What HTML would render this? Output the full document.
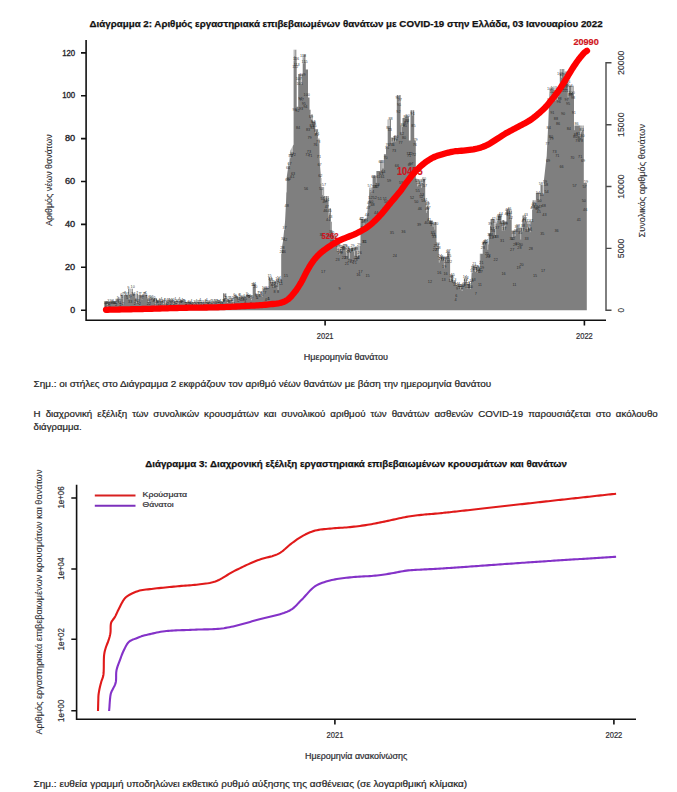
<!DOCTYPE html>
<html><head><meta charset="utf-8">
<style>
html,body{margin:0;padding:0;background:#fff;width:677px;height:792px;overflow:hidden;}
svg{position:absolute;left:0;top:0;}
text{font-family:"Liberation Sans", sans-serif;}
</style></head><body>
<svg width="677" height="792" viewBox="0 0 677 792">
<text x="89.6" y="26.6" font-size="9.8" font-weight="bold" fill="#111" stroke="#111" stroke-width="0.25" textLength="513" lengthAdjust="spacingAndGlyphs">Διάγραμμα 2: Αριθμός εργαστηριακά επιβεβαιωμένων θανάτων με COVID-19 στην Ελλάδα, 03 Ιανουαρίου 2022</text>
<path d="M104.3,310.3 L104.3,302.8 L115.6,302.8 L115.6,298.8 L120.6,298.8 L120.6,295 L128,295 L128,288.8 L133,288.8 L133,293.8 L138,293.8 L138,295 L147,295 L147,298.2 L157,298.2 L157,300.7 L183,300.7 L183,302 L223,302 L223,293.2 L226.3,293.2 L226.3,299.5 L233,299.5 L233,296.4 L245.8,296.4 L245.8,295 L252.7,295 L252.7,284.4 L255.8,284.4 L255.8,293.9 L260.8,293.9 L260.8,291.3 L263.4,291.3 L263.4,288.8 L268.6,288 L268.6,277.3 L271.8,277.3 L271.8,281.6 L276,281.6 L276,279.4 L281.2,279 L281.2,252 L283,241 L285,222 L286,203 L286.8,176.5 L288.5,165 L290.6,150 L293.6,144.5 L293.6,49.8 L296.7,49.8 L296.7,106.7 L298.2,106.7 L298.2,74 L302.7,74 L302.7,54.4 L305.8,54.4 L305.8,69.5 L308,69.5 L308,97.6 L309.5,97.6 L309.5,109.7 L311,109.7 L311,114.2 L312.6,114.2 L312.6,121.8 L315.6,121.8 L315.6,129.4 L317.9,129.4 L317.9,138.5 L319.4,138.5 L319.6,160 L321,178 L321.8,178 L321.8,187 L324.1,187 L324.1,196 L328.6,196 L328.6,208.2 L330.9,208.2 L330.9,221.8 L332,221.8 L332,232 L335,240 L342,246 L350,248 L358,246 L360.5,246 L360.5,219 L366.5,219 L368.8,200 L369.5,187.6 L372.6,187.6 L372.6,175.5 L376.4,175.5 L376.4,171 L380.2,171 L380.2,162.6 L383.9,162.6 L383.9,154.2 L386,154.2 L386,146.7 L387.7,146.7 L387.7,119.4 L391,119.4 L391,137.6 L393,137.6 L393,136 L396.8,136 L396.8,95 L400.6,95 L400.6,125.5 L402.1,125.5 L402.1,117.9 L405.2,117.9 L405.2,116.4 L408.9,116.4 L408.9,140.6 L410.5,140.6 L410.5,110.3 L414.2,110.3 L414.2,140.6 L415.8,140.6 L415.8,178.5 L421.4,179.7 L425.2,179 L425.2,201 L429,201 L429,220.6 L432.7,220.6 L432.7,222 L436.5,222 L436.5,243.3 L438.8,243.3 L438.8,257 L447.1,257 L447.1,252.2 L450.1,252.2 L450.1,275.5 L453,275.5 L453,281.3 L455.9,281.3 L455.9,285 L461,286 L461,285.6 L463.9,285.6 L463.9,279 L466.8,279 L466.8,284 L471.1,284 L471.9,265.3 L475.5,265.3 L475.5,266.8 L479.8,266.8 L479.8,253.7 L482.7,253.7 L482.7,242 L488.5,242 L488.5,233.4 L490,233.4 L490,218.9 L494.3,218.9 L494.3,223.2 L497.2,223.2 L497.2,220.3 L498,220.3 L498,215.5 L501.8,215.5 L501.8,220 L504.5,220 L504.5,221.8 L506.4,221.8 L506.4,209.4 L511.7,209.4 L511.7,230.6 L516.2,230.6 L516.2,227.6 L522.3,227.6 L522.3,215.5 L526,215.5 L526,221.5 L532.1,221.5 L532.1,200.3 L535.9,200.3 L535.9,192.7 L540.5,192.7 L540.5,185 L543.6,185 L543.6,183 L546.7,156 L548.2,125 L549.7,88.4 L552.7,88.4 L556.5,90 L559.8,90 L559.8,69 L564.3,69 L564.3,71.6 L567.8,71.6 L567.8,85.8 L574,85.8 L574,125.5 L583.8,125.5 L583.8,183 L586.8,183 L586.8,310.3Z" fill="#7f7f7f"/>
<g fill="#fff" fill-opacity="0.75"><rect x="107.36" y="302.3" width="0.6" height="4.5"/><rect x="116.67" y="298.3" width="0.6" height="4.3"/><rect x="119.54" y="298.3" width="0.6" height="4.5"/><rect x="121.68" y="294.5" width="0.6" height="4.1"/><rect x="123.12" y="294.5" width="0.6" height="10.6"/><rect x="128.84" y="288.3" width="0.6" height="10.9"/><rect x="129.56" y="288.3" width="0.6" height="6.2"/><rect x="130.28" y="288.3" width="0.6" height="9.2"/><rect x="130.99" y="288.3" width="0.6" height="6.2"/><rect x="131.71" y="288.3" width="0.6" height="7.1"/><rect x="135.29" y="293.3" width="0.6" height="6.0"/><rect x="136.00" y="293.3" width="0.6" height="9.6"/><rect x="138.15" y="294.5" width="0.6" height="8.3"/><rect x="141.02" y="294.5" width="0.6" height="3.8"/><rect x="141.73" y="294.5" width="0.6" height="5.1"/><rect x="148.18" y="297.7" width="0.6" height="4.3"/><rect x="155.34" y="297.7" width="0.6" height="7.9"/><rect x="163.21" y="300.2" width="0.6" height="6.5"/><rect x="165.36" y="300.2" width="0.6" height="7.2"/><rect x="173.24" y="300.2" width="0.6" height="3.3"/><rect x="176.82" y="300.2" width="0.6" height="4.7"/><rect x="178.25" y="300.2" width="0.6" height="5.5"/><rect x="187.56" y="301.5" width="0.6" height="3.1"/><rect x="193.28" y="301.5" width="0.6" height="5.7"/><rect x="194.72" y="301.5" width="0.6" height="4.4"/><rect x="196.86" y="301.5" width="0.6" height="4.6"/><rect x="201.88" y="301.5" width="0.6" height="5.4"/><rect x="212.62" y="301.5" width="0.6" height="3.1"/><rect x="213.33" y="301.5" width="0.6" height="4.5"/><rect x="221.21" y="301.5" width="0.6" height="3.0"/><rect x="224.07" y="292.7" width="0.6" height="5.6"/><rect x="224.79" y="292.7" width="0.6" height="5.5"/><rect x="226.94" y="299.0" width="0.6" height="4.0"/><rect x="231.95" y="299.0" width="0.6" height="3.0"/><rect x="233.38" y="295.9" width="0.6" height="10.2"/><rect x="238.39" y="295.9" width="0.6" height="5.1"/><rect x="249.85" y="294.5" width="0.6" height="3.6"/><rect x="251.28" y="294.5" width="0.6" height="5.7"/><rect x="252.00" y="294.5" width="0.6" height="4.0"/><rect x="252.71" y="283.9" width="0.6" height="3.1"/><rect x="260.59" y="290.8" width="0.6" height="4.3"/><rect x="261.30" y="290.8" width="0.6" height="4.9"/><rect x="262.02" y="290.8" width="0.6" height="5.7"/><rect x="269.90" y="276.8" width="0.6" height="4.2"/><rect x="270.61" y="276.8" width="0.6" height="5.1"/><rect x="271.33" y="276.8" width="0.6" height="7.2"/><rect x="273.48" y="281.1" width="0.6" height="6.4"/><rect x="276.34" y="278.9" width="0.6" height="6.3"/><rect x="277.77" y="278.7" width="0.6" height="11.5"/><rect x="279.20" y="278.6" width="0.6" height="3.7"/><rect x="279.92" y="278.6" width="0.6" height="5.1"/><rect x="281.35" y="248.7" width="0.6" height="5.2"/><rect x="284.22" y="226.1" width="0.6" height="3.7"/><rect x="286.36" y="180.5" width="0.6" height="11.9"/><rect x="289.23" y="157.2" width="0.6" height="8.6"/><rect x="289.94" y="152.0" width="0.6" height="6.2"/><rect x="291.38" y="147.5" width="0.6" height="5.6"/><rect x="292.09" y="146.2" width="0.6" height="7.4"/><rect x="293.52" y="49.3" width="0.6" height="11.8"/><rect x="294.24" y="49.3" width="0.6" height="6.9"/><rect x="295.67" y="49.3" width="0.6" height="7.4"/><rect x="296.39" y="49.3" width="0.6" height="7.7"/><rect x="300.68" y="73.5" width="0.6" height="10.9"/><rect x="301.40" y="73.5" width="0.6" height="10.8"/><rect x="302.83" y="53.9" width="0.6" height="3.8"/><rect x="303.55" y="53.9" width="0.6" height="9.7"/><rect x="304.98" y="53.9" width="0.6" height="7.7"/><rect x="309.99" y="109.2" width="0.6" height="7.9"/><rect x="311.42" y="113.7" width="0.6" height="5.8"/><rect x="315.00" y="121.3" width="0.6" height="11.8"/><rect x="315.72" y="128.9" width="0.6" height="3.6"/><rect x="317.15" y="128.9" width="0.6" height="6.0"/><rect x="317.87" y="138.0" width="0.6" height="5.3"/><rect x="320.73" y="177.5" width="0.6" height="6.3"/><rect x="321.45" y="177.5" width="0.6" height="10.9"/><rect x="322.16" y="186.5" width="0.6" height="8.6"/><rect x="322.88" y="186.5" width="0.6" height="9.8"/><rect x="325.03" y="195.5" width="0.6" height="5.8"/><rect x="327.18" y="195.5" width="0.6" height="5.9"/><rect x="328.61" y="207.7" width="0.6" height="11.1"/><rect x="329.32" y="207.7" width="0.6" height="5.5"/><rect x="330.76" y="221.3" width="0.6" height="11.4"/><rect x="334.34" y="238.5" width="0.6" height="4.8"/><rect x="335.77" y="240.4" width="0.6" height="5.5"/><rect x="337.20" y="241.6" width="0.6" height="9.7"/><rect x="337.92" y="242.3" width="0.6" height="5.7"/><rect x="338.63" y="242.9" width="0.6" height="8.2"/><rect x="339.35" y="243.5" width="0.6" height="10.9"/><rect x="340.06" y="244.1" width="0.6" height="6.8"/><rect x="340.78" y="244.7" width="0.6" height="6.9"/><rect x="341.50" y="245.3" width="0.6" height="5.7"/><rect x="345.79" y="246.5" width="0.6" height="5.9"/><rect x="346.51" y="246.7" width="0.6" height="9.2"/><rect x="347.22" y="246.9" width="0.6" height="3.1"/><rect x="349.37" y="247.4" width="0.6" height="11.1"/><rect x="350.09" y="247.4" width="0.6" height="4.6"/><rect x="352.95" y="246.7" width="0.6" height="4.8"/><rect x="354.38" y="246.3" width="0.6" height="9.4"/><rect x="355.82" y="246.0" width="0.6" height="5.0"/><rect x="357.25" y="245.6" width="0.6" height="11.2"/><rect x="357.96" y="245.5" width="0.6" height="9.5"/><rect x="359.40" y="245.5" width="0.6" height="9.5"/><rect x="363.69" y="218.5" width="0.6" height="9.3"/><rect x="365.84" y="218.5" width="0.6" height="3.4"/><rect x="370.14" y="187.1" width="0.6" height="5.6"/><rect x="371.57" y="187.1" width="0.6" height="6.2"/><rect x="375.86" y="175.0" width="0.6" height="7.8"/><rect x="380.88" y="162.1" width="0.6" height="8.5"/><rect x="382.31" y="162.1" width="0.6" height="6.4"/><rect x="383.02" y="162.1" width="0.6" height="6.4"/><rect x="388.04" y="118.9" width="0.6" height="7.1"/><rect x="388.75" y="118.9" width="0.6" height="11.0"/><rect x="389.47" y="118.9" width="0.6" height="9.2"/><rect x="391.62" y="137.1" width="0.6" height="8.3"/><rect x="393.05" y="135.5" width="0.6" height="6.1"/><rect x="395.20" y="135.5" width="0.6" height="6.0"/><rect x="395.91" y="135.5" width="0.6" height="3.4"/><rect x="398.06" y="94.5" width="0.6" height="5.1"/><rect x="398.78" y="94.5" width="0.6" height="10.2"/><rect x="400.92" y="125.0" width="0.6" height="9.2"/><rect x="402.36" y="117.4" width="0.6" height="9.6"/><rect x="412.38" y="109.8" width="0.6" height="5.8"/><rect x="416.68" y="178.3" width="0.6" height="4.5"/><rect x="417.39" y="178.4" width="0.6" height="8.0"/><rect x="418.11" y="178.6" width="0.6" height="6.6"/><rect x="419.54" y="178.9" width="0.6" height="6.4"/><rect x="420.26" y="179.0" width="0.6" height="4.8"/><rect x="420.97" y="179.2" width="0.6" height="8.7"/><rect x="422.40" y="179.0" width="0.6" height="4.2"/><rect x="425.98" y="200.5" width="0.6" height="12.4"/><rect x="426.70" y="200.5" width="0.6" height="10.5"/><rect x="427.42" y="200.5" width="0.6" height="5.1"/><rect x="428.13" y="200.5" width="0.6" height="6.9"/><rect x="432.43" y="221.5" width="0.6" height="4.8"/><rect x="433.14" y="221.5" width="0.6" height="5.0"/><rect x="434.58" y="221.5" width="0.6" height="8.2"/><rect x="436.01" y="221.5" width="0.6" height="3.9"/><rect x="436.72" y="242.8" width="0.6" height="5.8"/><rect x="437.44" y="242.8" width="0.6" height="3.1"/><rect x="438.87" y="256.5" width="0.6" height="6.1"/><rect x="440.30" y="256.5" width="0.6" height="4.5"/><rect x="442.45" y="256.5" width="0.6" height="3.3"/><rect x="443.88" y="256.5" width="0.6" height="11.8"/><rect x="444.60" y="256.5" width="0.6" height="4.0"/><rect x="446.03" y="256.5" width="0.6" height="4.9"/><rect x="448.90" y="251.7" width="0.6" height="5.8"/><rect x="450.33" y="275.0" width="0.6" height="5.7"/><rect x="460.35" y="285.4" width="0.6" height="3.9"/><rect x="461.07" y="285.1" width="0.6" height="3.1"/><rect x="461.78" y="285.1" width="0.6" height="5.9"/><rect x="465.36" y="278.5" width="0.6" height="3.2"/><rect x="466.80" y="283.5" width="0.6" height="5.1"/><rect x="470.38" y="283.5" width="0.6" height="5.4"/><rect x="471.81" y="264.8" width="0.6" height="8.2"/><rect x="474.67" y="264.8" width="0.6" height="6.0"/><rect x="475.39" y="266.3" width="0.6" height="5.7"/><rect x="477.54" y="266.3" width="0.6" height="6.5"/><rect x="479.68" y="253.2" width="0.6" height="7.2"/><rect x="482.55" y="241.5" width="0.6" height="8.0"/><rect x="483.98" y="241.5" width="0.6" height="3.5"/><rect x="487.56" y="241.5" width="0.6" height="8.3"/><rect x="488.28" y="232.9" width="0.6" height="11.5"/><rect x="489.71" y="218.4" width="0.6" height="7.6"/><rect x="490.42" y="218.4" width="0.6" height="7.1"/><rect x="494.00" y="222.7" width="0.6" height="6.3"/><rect x="495.44" y="222.7" width="0.6" height="12.3"/><rect x="501.16" y="215.0" width="0.6" height="7.5"/><rect x="501.88" y="219.5" width="0.6" height="11.2"/><rect x="504.03" y="219.5" width="0.6" height="10.9"/><rect x="505.46" y="221.3" width="0.6" height="4.5"/><rect x="508.32" y="208.9" width="0.6" height="6.6"/><rect x="509.76" y="208.9" width="0.6" height="5.1"/><rect x="510.47" y="208.9" width="0.6" height="10.8"/><rect x="511.19" y="208.9" width="0.6" height="8.4"/><rect x="511.90" y="230.1" width="0.6" height="7.7"/><rect x="514.77" y="230.1" width="0.6" height="5.9"/><rect x="520.50" y="227.1" width="0.6" height="12.4"/><rect x="521.93" y="227.1" width="0.6" height="4.3"/><rect x="522.64" y="215.0" width="0.6" height="6.3"/><rect x="524.08" y="215.0" width="0.6" height="7.2"/><rect x="524.79" y="215.0" width="0.6" height="5.3"/><rect x="526.94" y="221.0" width="0.6" height="9.9"/><rect x="528.37" y="221.0" width="0.6" height="6.5"/><rect x="529.09" y="221.0" width="0.6" height="7.7"/><rect x="529.80" y="221.0" width="0.6" height="11.2"/><rect x="531.95" y="199.8" width="0.6" height="10.0"/><rect x="532.67" y="199.8" width="0.6" height="9.4"/><rect x="534.10" y="199.8" width="0.6" height="6.0"/><rect x="535.53" y="199.8" width="0.6" height="8.5"/><rect x="539.11" y="192.2" width="0.6" height="7.6"/><rect x="542.69" y="184.5" width="0.6" height="10.4"/><rect x="543.41" y="181.6" width="0.6" height="12.4"/><rect x="550.57" y="87.9" width="0.6" height="8.4"/><rect x="552.72" y="88.0" width="0.6" height="5.9"/><rect x="554.15" y="88.6" width="0.6" height="11.2"/><rect x="555.58" y="89.2" width="0.6" height="11.7"/><rect x="557.01" y="89.5" width="0.6" height="10.3"/><rect x="557.73" y="89.5" width="0.6" height="7.9"/><rect x="560.59" y="68.5" width="0.6" height="5.5"/><rect x="561.31" y="68.5" width="0.6" height="9.4"/><rect x="562.74" y="68.5" width="0.6" height="7.4"/><rect x="564.17" y="71.1" width="0.6" height="11.1"/><rect x="565.60" y="71.1" width="0.6" height="10.1"/><rect x="567.75" y="85.3" width="0.6" height="12.0"/><rect x="568.47" y="85.3" width="0.6" height="9.3"/><rect x="571.33" y="85.3" width="0.6" height="7.8"/><rect x="572.05" y="85.3" width="0.6" height="6.5"/><rect x="573.48" y="85.3" width="0.6" height="8.9"/><rect x="574.20" y="125.0" width="0.6" height="5.2"/><rect x="579.92" y="125.0" width="0.6" height="12.5"/><rect x="581.36" y="125.0" width="0.6" height="7.2"/><rect x="582.07" y="125.0" width="0.6" height="5.6"/><rect x="582.79" y="125.0" width="0.6" height="5.2"/></g><g font-size="3.8" fill="#141414" fill-opacity="0.85" text-anchor="middle" font-family="Liberation Sans"><text x="104.8" y="303.5">3</text><text x="105.5" y="307.2">1</text><text x="106.2" y="304.3">2</text><text x="106.9" y="303.8">3</text><text x="107.7" y="306.0">2</text><text x="108.4" y="302.2">3</text><text x="109.1" y="305.0">2</text><text x="109.8" y="307.2">1</text><text x="110.5" y="302.4">3</text><text x="111.2" y="303.9">3</text><text x="112.0" y="302.5">3</text><text x="112.7" y="302.1">3</text><text x="113.4" y="303.5">3</text><text x="114.1" y="303.9">3</text><text x="114.8" y="303.8">3</text><text x="115.5" y="303.6">3</text><text x="116.3" y="306.1">2</text><text x="117.0" y="301.8">4</text><text x="117.7" y="299.1">5</text><text x="118.4" y="302.5">3</text><text x="119.1" y="299.5">5</text><text x="119.8" y="303.8">3</text><text x="120.6" y="305.5">2</text><text x="121.3" y="296.0">6</text><text x="122.0" y="297.8">5</text><text x="122.7" y="294.5">7</text><text x="123.4" y="304.9">2</text><text x="124.1" y="295.2">7</text><text x="124.8" y="294.4">7</text><text x="125.6" y="294.9">7</text><text x="126.3" y="296.4">6</text><text x="127.0" y="299.0">5</text><text x="127.7" y="294.7">7</text><text x="128.4" y="289.1">9</text><text x="129.1" y="303.1">3</text><text x="129.9" y="297.7">5</text><text x="130.6" y="296.7">6</text><text x="131.3" y="303.1">3</text><text x="132.0" y="294.7">7</text><text x="132.7" y="288.3">10</text><text x="133.4" y="296.3">6</text><text x="134.2" y="294.8">7</text><text x="134.9" y="304.6">2</text><text x="135.6" y="300.7">4</text><text x="136.3" y="302.1">3</text><text x="137.0" y="293.8">7</text><text x="137.7" y="303.7">3</text><text x="138.5" y="302.0">3</text><text x="139.2" y="294.6">7</text><text x="139.9" y="304.9">2</text><text x="140.6" y="295.3">7</text><text x="141.3" y="297.5">6</text><text x="142.0" y="298.8">5</text><text x="142.7" y="297.2">6</text><text x="143.5" y="295.4">7</text><text x="144.2" y="295.0">7</text><text x="144.9" y="295.3">7</text><text x="145.6" y="294.4">7</text><text x="146.3" y="295.9">6</text><text x="147.0" y="297.9">5</text><text x="147.8" y="304.5">2</text><text x="148.5" y="301.2">4</text><text x="149.2" y="297.5">6</text><text x="149.9" y="305.1">2</text><text x="150.6" y="297.5">6</text><text x="151.3" y="299.5">5</text><text x="152.1" y="298.6">5</text><text x="152.8" y="297.6">5</text><text x="153.5" y="301.7">4</text><text x="154.2" y="301.3">4</text><text x="154.9" y="298.8">5</text><text x="155.6" y="304.8">2</text><text x="156.4" y="302.4">3</text><text x="157.1" y="302.7">3</text><text x="157.8" y="302.6">3</text><text x="158.5" y="306.6">1</text><text x="159.2" y="301.3">4</text><text x="159.9" y="302.4">3</text><text x="160.6" y="305.1">2</text><text x="161.4" y="300.0">4</text><text x="162.1" y="301.8">4</text><text x="162.8" y="303.3">3</text><text x="163.5" y="306.6">1</text><text x="164.2" y="300.9">4</text><text x="164.9" y="300.5">4</text><text x="165.7" y="306.6">1</text><text x="166.4" y="306.2">1</text><text x="167.1" y="300.5">4</text><text x="167.8" y="304.6">2</text><text x="168.5" y="301.3">4</text><text x="169.2" y="301.0">4</text><text x="170.0" y="301.9">4</text><text x="170.7" y="305.3">2</text><text x="171.4" y="300.8">4</text><text x="172.1" y="301.6">4</text><text x="172.8" y="300.6">4</text><text x="173.5" y="302.7">3</text><text x="174.3" y="305.1">2</text><text x="175.0" y="300.1">4</text><text x="175.7" y="305.8">2</text><text x="176.4" y="302.3">3</text><text x="177.1" y="304.4">2</text><text x="177.8" y="301.6">4</text><text x="178.5" y="304.9">2</text><text x="179.3" y="300.0">4</text><text x="180.0" y="301.6">4</text><text x="180.7" y="302.9">3</text><text x="181.4" y="303.2">3</text><text x="182.1" y="300.5">4</text><text x="182.8" y="301.7">4</text><text x="183.6" y="301.7">4</text><text x="184.3" y="302.3">3</text><text x="185.0" y="303.2">3</text><text x="185.7" y="305.0">2</text><text x="186.4" y="307.0">1</text><text x="187.1" y="304.6">2</text><text x="187.9" y="303.8">3</text><text x="188.6" y="303.4">3</text><text x="189.3" y="305.4">2</text><text x="190.0" y="304.0">3</text><text x="190.7" y="305.7">2</text><text x="191.4" y="301.8">4</text><text x="192.2" y="307.0">1</text><text x="192.9" y="305.4">2</text><text x="193.6" y="306.4">1</text><text x="194.3" y="302.7">3</text><text x="195.0" y="305.1">2</text><text x="195.7" y="305.6">2</text><text x="196.4" y="301.7">4</text><text x="197.2" y="305.3">2</text><text x="197.9" y="303.1">3</text><text x="198.6" y="306.1">2</text><text x="199.3" y="303.0">3</text><text x="200.0" y="301.4">4</text><text x="200.7" y="303.2">3</text><text x="201.5" y="304.7">2</text><text x="202.2" y="306.1">2</text><text x="202.9" y="302.5">3</text><text x="203.6" y="307.0">1</text><text x="204.3" y="307.0">1</text><text x="205.0" y="301.8">4</text><text x="205.8" y="303.1">3</text><text x="206.5" y="301.3">4</text><text x="207.2" y="303.1">3</text><text x="207.9" y="305.5">2</text><text x="208.6" y="304.3">2</text><text x="209.3" y="302.6">3</text><text x="210.1" y="307.0">1</text><text x="210.8" y="301.6">4</text><text x="211.5" y="305.7">2</text><text x="212.2" y="302.2">3</text><text x="212.9" y="303.8">3</text><text x="213.6" y="305.2">2</text><text x="214.3" y="301.9">4</text><text x="215.1" y="302.2">3</text><text x="215.8" y="303.8">3</text><text x="216.5" y="301.5">4</text><text x="217.2" y="302.0">3</text><text x="217.9" y="303.2">3</text><text x="218.6" y="302.5">3</text><text x="219.4" y="303.2">3</text><text x="220.1" y="301.8">4</text><text x="220.8" y="303.9">3</text><text x="221.5" y="303.7">3</text><text x="222.2" y="304.8">2</text><text x="222.9" y="302.2">3</text><text x="223.7" y="302.4">3</text><text x="224.4" y="300.9">4</text><text x="225.1" y="297.4">6</text><text x="225.8" y="299.3">5</text><text x="226.5" y="299.1">5</text><text x="227.2" y="302.2">3</text><text x="228.0" y="302.2">3</text><text x="228.7" y="299.1">5</text><text x="229.4" y="303.0">3</text><text x="230.1" y="299.3">5</text><text x="230.8" y="299.0">5</text><text x="231.5" y="301.1">4</text><text x="232.2" y="301.2">4</text><text x="233.0" y="299.4">5</text><text x="233.7" y="305.3">2</text><text x="234.4" y="295.8">6</text><text x="235.1" y="297.7">5</text><text x="235.8" y="297.0">6</text><text x="236.5" y="298.1">5</text><text x="237.3" y="298.8">5</text><text x="238.0" y="302.0">3</text><text x="238.7" y="300.2">4</text><text x="239.4" y="296.2">6</text><text x="240.1" y="295.7">6</text><text x="240.8" y="301.2">4</text><text x="241.6" y="299.0">5</text><text x="242.3" y="298.0">5</text><text x="243.0" y="301.2">4</text><text x="243.7" y="300.3">4</text><text x="244.4" y="297.4">6</text><text x="245.1" y="302.9">3</text><text x="245.9" y="299.5">5</text><text x="246.6" y="294.5">7</text><text x="247.3" y="296.5">6</text><text x="248.0" y="295.8">6</text><text x="248.7" y="297.8">5</text><text x="249.4" y="298.2">5</text><text x="250.1" y="297.3">6</text><text x="250.9" y="304.9">2</text><text x="251.6" y="299.4">5</text><text x="252.3" y="297.7">5</text><text x="253.0" y="286.2">11</text><text x="253.7" y="286.0">11</text><text x="254.4" y="285.1">11</text><text x="255.2" y="287.7">10</text><text x="255.9" y="296.3">6</text><text x="256.6" y="299.4">5</text><text x="257.3" y="298.5">5</text><text x="258.0" y="293.8">7</text><text x="258.7" y="293.8">7</text><text x="259.5" y="296.7">6</text><text x="260.2" y="295.2">7</text><text x="260.9" y="294.3">7</text><text x="261.6" y="294.9">7</text><text x="262.3" y="295.7">6</text><text x="263.0" y="291.7">8</text><text x="263.8" y="288.7">10</text><text x="264.5" y="290.1">9</text><text x="265.2" y="294.0">7</text><text x="265.9" y="300.8">4</text><text x="266.6" y="290.1">9</text><text x="267.3" y="288.7">10</text><text x="268.0" y="300.1">4</text><text x="268.8" y="299.6">5</text><text x="269.5" y="277.2">15</text><text x="270.2" y="280.2">14</text><text x="270.9" y="281.1">13</text><text x="271.6" y="283.2">12</text><text x="272.3" y="285.6">11</text><text x="273.1" y="285.0">11</text><text x="273.8" y="288.1">10</text><text x="274.5" y="293.1">8</text><text x="275.2" y="283.3">12</text><text x="275.9" y="287.2">10</text><text x="276.6" y="284.4">12</text><text x="277.4" y="280.2">14</text><text x="278.1" y="292.9">8</text><text x="278.8" y="278.8">14</text><text x="279.5" y="281.6">13</text><text x="280.2" y="282.9">12</text><text x="280.9" y="284.9">11</text><text x="281.7" y="253.1">26</text><text x="282.4" y="248.6">28</text><text x="283.1" y="240.3">32</text><text x="283.8" y="252.9">26</text><text x="284.5" y="229.0">37</text><text x="285.2" y="240.8">32</text><text x="285.9" y="277.3">15</text><text x="286.7" y="207.1">48</text><text x="287.4" y="181.4">60</text><text x="288.1" y="168.7">66</text><text x="288.8" y="180.4">60</text><text x="289.5" y="165.0">67</text><text x="290.2" y="157.4">71</text><text x="291.0" y="157.2">71</text><text x="291.7" y="155.3">72</text><text x="292.4" y="177.5">61</text><text x="293.1" y="175.0">63</text><text x="293.8" y="155.8">72</text><text x="294.5" y="110.7">93</text><text x="295.3" y="68.4">112</text><text x="296.0" y="59.8">116</text><text x="296.7" y="66.1">113</text><text x="297.4" y="112.4">92</text><text x="298.1" y="129.2">84</text><text x="298.8" y="79.9">107</text><text x="299.6" y="84.6">105</text><text x="300.3" y="100.4">97</text><text x="301.0" y="109.6">93</text><text x="301.7" y="100.6">97</text><text x="302.4" y="76.1">109</text><text x="303.1" y="56.9">118</text><text x="303.8" y="104.7">95</text><text x="304.6" y="62.9">115</text><text x="305.3" y="107.6">94</text><text x="306.0" y="190.2">56</text><text x="306.7" y="95.8">100</text><text x="307.4" y="155.5">72</text><text x="308.1" y="131.2">83</text><text x="308.9" y="152.9">73</text><text x="309.6" y="139.1">79</text><text x="310.3" y="156.8">71</text><text x="311.0" y="118.0">89</text><text x="311.7" y="127.0">85</text><text x="312.4" y="129.4">84</text><text x="313.2" y="122.7">87</text><text x="313.9" y="124.4">86</text><text x="314.6" y="126.5">85</text><text x="315.3" y="145.5">76</text><text x="316.0" y="131.7">83</text><text x="316.7" y="135.8">81</text><text x="317.5" y="135.4">81</text><text x="318.2" y="142.5">78</text><text x="318.9" y="158.0">71</text><text x="319.6" y="166.0">67</text><text x="320.3" y="177.3">62</text><text x="321.0" y="190.4">55</text><text x="321.7" y="236.2">34</text><text x="322.5" y="200.3">51</text><text x="323.2" y="272.5">17</text><text x="323.9" y="186.4">57</text><text x="324.6" y="203.3">49</text><text x="325.3" y="211.5">46</text><text x="326.0" y="202.0">50</text><text x="326.8" y="207.9">47</text><text x="327.5" y="200.6">51</text><text x="328.2" y="221.0">41</text><text x="328.9" y="237.0">34</text><text x="329.6" y="212.4">45</text><text x="330.3" y="217.7">43</text><text x="331.1" y="233.3">35</text><text x="331.8" y="242.6">31</text><text x="332.5" y="233.7">35</text><text x="333.2" y="237.2">34</text><text x="333.9" y="238.3">33</text><text x="334.6" y="242.5">31</text><text x="335.4" y="243.6">31</text><text x="336.1" y="245.1">30</text><text x="336.8" y="246.3">29</text><text x="337.5" y="260.9">23</text><text x="338.2" y="247.1">29</text><text x="338.9" y="251.6">27</text><text x="339.6" y="289.6">9</text><text x="340.4" y="254.0">26</text><text x="341.1" y="252.6">26</text><text x="341.8" y="250.3">28</text><text x="342.5" y="247.7">29</text><text x="343.2" y="249.7">28</text><text x="343.9" y="259.1">23</text><text x="344.7" y="246.9">29</text><text x="345.4" y="247.1">29</text><text x="346.1" y="259.0">23</text><text x="346.8" y="265.1">21</text><text x="347.5" y="249.2">28</text><text x="348.2" y="252.1">27</text><text x="349.0" y="252.7">26</text><text x="349.7" y="262.0">22</text><text x="350.4" y="251.2">27</text><text x="351.1" y="252.2">27</text><text x="351.8" y="262.8">22</text><text x="352.5" y="246.8">29</text><text x="353.3" y="250.7">27</text><text x="354.0" y="251.1">27</text><text x="354.7" y="264.1">21</text><text x="355.4" y="261.0">23</text><text x="356.1" y="250.2">28</text><text x="356.8" y="258.6">24</text><text x="357.5" y="258.5">24</text><text x="358.3" y="275.6">16</text><text x="359.0" y="246.1">29</text><text x="359.7" y="254.2">26</text><text x="360.4" y="273.0">17</text><text x="361.1" y="220.1">42</text><text x="361.8" y="220.3">42</text><text x="362.6" y="229.4">37</text><text x="363.3" y="222.6">40</text><text x="364.0" y="242.5">31</text><text x="364.7" y="243.1">31</text><text x="365.4" y="222.1">41</text><text x="366.1" y="221.1">41</text><text x="366.9" y="215.7">44</text><text x="367.6" y="276.8">15</text><text x="368.3" y="209.4">47</text><text x="369.0" y="204.0">49</text><text x="369.7" y="187.1">57</text><text x="370.4" y="198.6">52</text><text x="371.2" y="202.5">50</text><text x="371.9" y="192.5">54</text><text x="372.6" y="206.0">48</text><text x="373.3" y="177.9">61</text><text x="374.0" y="187.6">57</text><text x="374.7" y="198.5">52</text><text x="375.4" y="188.2">56</text><text x="376.2" y="214.0">44</text><text x="376.9" y="187.7">57</text><text x="377.6" y="185.8">58</text><text x="378.3" y="178.3">61</text><text x="379.0" y="218.6">42</text><text x="379.7" y="199.5">51</text><text x="380.5" y="163.4">68</text><text x="381.2" y="174.9">63</text><text x="381.9" y="163.0">68</text><text x="382.6" y="178.4">61</text><text x="383.3" y="173.0">64</text><text x="384.0" y="210.0">46</text><text x="384.8" y="200.4">51</text><text x="385.5" y="159.3">70</text><text x="386.2" y="202.9">50</text><text x="386.9" y="149.1">75</text><text x="387.6" y="145.9">76</text><text x="388.3" y="128.6">84</text><text x="389.1" y="182.2">59</text><text x="389.8" y="131.0">83</text><text x="390.5" y="119.5">88</text><text x="391.2" y="146.2">76</text><text x="391.9" y="234.0">35</text><text x="392.6" y="145.8">76</text><text x="393.3" y="140.8">79</text><text x="394.1" y="151.8">73</text><text x="394.8" y="257.2">24</text><text x="395.5" y="140.7">79</text><text x="396.2" y="138.1">80</text><text x="396.9" y="167.2">66</text><text x="397.6" y="98.8">98</text><text x="398.4" y="112.8">92</text><text x="399.1" y="105.8">95</text><text x="399.8" y="100.5">97</text><text x="400.5" y="143.7">77</text><text x="401.2" y="183.8">59</text><text x="401.9" y="134.5">82</text><text x="402.7" y="126.3">85</text><text x="403.4" y="233.0">36</text><text x="404.1" y="138.6">80</text><text x="404.8" y="126.6">85</text><text x="405.5" y="118.2">89</text><text x="406.2" y="123.7">87</text><text x="407.0" y="121.5">88</text><text x="407.7" y="116.6">90</text><text x="408.4" y="155.4">72</text><text x="409.1" y="157.3">71</text><text x="409.8" y="166.0">67</text><text x="410.5" y="154.6">72</text><text x="411.2" y="164.6">67</text><text x="412.0" y="198.8">52</text><text x="412.7" y="114.8">91</text><text x="413.4" y="126.6">85</text><text x="414.1" y="155.7">72</text><text x="414.8" y="146.1">76</text><text x="415.5" y="140.7">79</text><text x="416.3" y="202.8">50</text><text x="417.0" y="181.9">59</text><text x="417.7" y="191.7">55</text><text x="418.4" y="184.3">58</text><text x="419.1" y="225.6">39</text><text x="419.8" y="209.7">46</text><text x="420.6" y="186.1">57</text><text x="421.3" y="198.1">52</text><text x="422.0" y="196.4">53</text><text x="422.7" y="182.4">59</text><text x="423.4" y="201.8">50</text><text x="424.1" y="179.6">60</text><text x="424.9" y="187.3">57</text><text x="425.6" y="200.9">51</text><text x="426.3" y="224.3">40</text><text x="427.0" y="210.4">46</text><text x="427.7" y="204.8">49</text><text x="428.4" y="208.6">47</text><text x="429.1" y="220.9">41</text><text x="429.9" y="282.6">12</text><text x="430.6" y="223.5">40</text><text x="431.3" y="223.7">40</text><text x="432.0" y="226.2">39</text><text x="432.7" y="234.3">35</text><text x="433.4" y="235.7">34</text><text x="434.2" y="237.6">33</text><text x="434.9" y="251.3">27</text><text x="435.6" y="246.9">29</text><text x="436.3" y="224.6">40</text><text x="437.0" y="251.2">27</text><text x="437.7" y="245.1">30</text><text x="438.5" y="248.9">28</text><text x="439.2" y="274.0">16</text><text x="439.9" y="256.9">24</text><text x="440.6" y="260.2">23</text><text x="441.3" y="258.0">24</text><text x="442.0" y="260.7">23</text><text x="442.8" y="259.0">23</text><text x="443.5" y="280.9">13</text><text x="444.2" y="267.7">19</text><text x="444.9" y="259.7">23</text><text x="445.6" y="275.4">16</text><text x="446.3" y="262.8">22</text><text x="447.0" y="258.6">24</text><text x="447.8" y="253.0">26</text><text x="448.5" y="251.7">27</text><text x="449.2" y="256.7">25</text><text x="449.9" y="263.2">22</text><text x="450.6" y="281.7">13</text><text x="451.3" y="276.8">15</text><text x="452.1" y="278.0">15</text><text x="452.8" y="276.3">15</text><text x="453.5" y="282.9">12</text><text x="454.2" y="280.7">13</text><text x="454.9" y="286.0">11</text><text x="455.6" y="300.8">4</text><text x="456.4" y="296.9">6</text><text x="457.1" y="289.9">9</text><text x="457.8" y="285.9">11</text><text x="458.5" y="285.2">11</text><text x="459.2" y="287.3">10</text><text x="459.9" y="287.4">10</text><text x="460.7" y="288.5">10</text><text x="461.4" y="287.4">10</text><text x="462.1" y="290.2">9</text><text x="462.8" y="286.9">10</text><text x="463.5" y="285.6">11</text><text x="464.2" y="285.3">11</text><text x="464.9" y="278.3">14</text><text x="465.7" y="280.9">13</text><text x="466.4" y="278.5">14</text><text x="467.1" y="287.8">10</text><text x="467.8" y="284.7">12</text><text x="468.5" y="285.4">11</text><text x="469.2" y="287.5">10</text><text x="470.0" y="284.3">12</text><text x="470.7" y="288.1">10</text><text x="471.4" y="281.6">13</text><text x="472.1" y="272.2">17</text><text x="472.8" y="268.7">19</text><text x="473.5" y="281.0">13</text><text x="474.3" y="264.8">21</text><text x="475.0" y="270.0">18</text><text x="475.7" y="294.6">7</text><text x="476.4" y="268.0">19</text><text x="477.1" y="268.0">19</text><text x="477.8" y="272.0">17</text><text x="478.6" y="271.2">18</text><text x="479.3" y="273.4">17</text><text x="480.0" y="285.6">11</text><text x="480.7" y="273.4">17</text><text x="481.4" y="264.1">21</text><text x="482.1" y="269.3">19</text><text x="482.8" y="248.7">28</text><text x="483.6" y="244.9">30</text><text x="484.3" y="244.2">30</text><text x="485.0" y="243.4">31</text><text x="485.7" y="242.7">31</text><text x="486.4" y="242.0">31</text><text x="487.1" y="254.7">25</text><text x="487.9" y="257.6">24</text><text x="488.6" y="257.3">24</text><text x="489.3" y="236.2">34</text><text x="490.0" y="225.2">39</text><text x="490.7" y="236.1">34</text><text x="491.4" y="238.5">33</text><text x="492.2" y="230.1">37</text><text x="492.9" y="232.0">36</text><text x="493.6" y="220.0">42</text><text x="494.3" y="237.6">33</text><text x="495.0" y="222.6">40</text><text x="495.7" y="261.2">22</text><text x="496.5" y="238.3">33</text><text x="497.2" y="229.3">37</text><text x="497.9" y="220.2">42</text><text x="498.6" y="216.6">43</text><text x="499.3" y="219.7">42</text><text x="500.0" y="216.6">43</text><text x="500.7" y="215.1">44</text><text x="501.5" y="224.4">40</text><text x="502.2" y="242.0">31</text><text x="502.9" y="226.2">39</text><text x="503.6" y="275.2">16</text><text x="504.3" y="230.4">37</text><text x="505.0" y="223.7">40</text><text x="505.8" y="225.0">39</text><text x="506.5" y="214.7">44</text><text x="507.2" y="211.0">46</text><text x="507.9" y="213.6">45</text><text x="508.6" y="215.7">44</text><text x="509.3" y="209.6">46</text><text x="510.1" y="214.4">44</text><text x="510.8" y="218.9">42</text><text x="511.5" y="240.2">32</text><text x="512.2" y="250.6">27</text><text x="512.9" y="239.9">32</text><text x="513.6" y="233.9">35</text><text x="514.4" y="285.6">11</text><text x="515.1" y="246.1">29</text><text x="515.8" y="232.1">36</text><text x="516.5" y="227.8">38</text><text x="517.2" y="245.1">30</text><text x="517.9" y="226.9">38</text><text x="518.6" y="268.7">19</text><text x="519.4" y="248.5">28</text><text x="520.1" y="233.5">35</text><text x="520.8" y="245.9">30</text><text x="521.5" y="266.1">20</text><text x="522.2" y="230.6">37</text><text x="522.9" y="227.4">38</text><text x="523.7" y="221.5">41</text><text x="524.4" y="221.4">41</text><text x="525.1" y="219.5">42</text><text x="525.8" y="216.2">43</text><text x="526.5" y="239.6">33</text><text x="527.2" y="231.7">36</text><text x="528.0" y="222.3">41</text><text x="528.7" y="226.7">39</text><text x="529.4" y="230.4">37</text><text x="530.1" y="231.4">36</text><text x="530.8" y="250.3">28</text><text x="531.5" y="222.3">41</text><text x="532.3" y="209.0">47</text><text x="533.0" y="208.4">47</text><text x="533.7" y="204.9">49</text><text x="534.4" y="206.1">48</text><text x="535.1" y="276.5">15</text><text x="535.8" y="207.5">47</text><text x="536.5" y="209.1">47</text><text x="537.3" y="209.7">46</text><text x="538.0" y="194.1">54</text><text x="538.7" y="212.9">45</text><text x="539.4" y="201.7">50</text><text x="540.1" y="208.4">47</text><text x="540.8" y="184.8">58</text><text x="541.6" y="195.5">53</text><text x="542.3" y="235.3">35</text><text x="543.0" y="271.9">17</text><text x="543.7" y="207.2">48</text><text x="544.4" y="216.1">43</text><text x="545.1" y="183.1">59</text><text x="545.9" y="185.7">58</text><text x="546.6" y="193.0">54</text><text x="547.3" y="144.7">77</text><text x="548.0" y="161.7">69</text><text x="548.7" y="129.2">84</text><text x="549.4" y="100.9">97</text><text x="550.2" y="90.1">102</text><text x="550.9" y="138.0">80</text><text x="551.6" y="140.0">79</text><text x="552.3" y="113.6">91</text><text x="553.0" y="93.1">101</text><text x="553.7" y="89.3">103</text><text x="554.4" y="153.3">73</text><text x="555.2" y="95.1">100</text><text x="555.9" y="120.0">88</text><text x="556.6" y="231.9">36</text><text x="557.3" y="156.9">71</text><text x="558.0" y="124.9">86</text><text x="558.7" y="102.6">96</text><text x="559.5" y="99.8">98</text><text x="560.2" y="75.2">109</text><text x="560.9" y="90.4">102</text><text x="561.6" y="168.1">66</text><text x="562.3" y="75.9">109</text><text x="563.0" y="115.2">90</text><text x="563.8" y="86.7">104</text><text x="564.5" y="90.1">102</text><text x="565.2" y="92.1">101</text><text x="565.9" y="85.6">104</text><text x="566.6" y="101.0">97</text><text x="567.3" y="82.6">106</text><text x="568.1" y="105.0">95</text><text x="568.8" y="129.8">84</text><text x="569.5" y="87.2">104</text><text x="570.2" y="95.9">99</text><text x="570.9" y="96.4">99</text><text x="571.6" y="94.2">100</text><text x="572.3" y="159.3">70</text><text x="573.1" y="98.8">98</text><text x="573.8" y="114.4">91</text><text x="574.5" y="186.8">57</text><text x="575.2" y="137.5">80</text><text x="575.9" y="136.2">81</text><text x="576.6" y="125.3">86</text><text x="577.4" y="142.0">78</text><text x="578.1" y="135.1">81</text><text x="578.8" y="221.1">41</text><text x="579.5" y="138.5">80</text><text x="580.2" y="157.8">71</text><text x="580.9" y="141.7">78</text><text x="581.7" y="131.4">83</text><text x="582.4" y="137.3">80</text><text x="583.1" y="161.8">69</text><text x="583.8" y="202.4">50</text><text x="584.5" y="187.8">57</text><text x="585.2" y="211.1">46</text><text x="586.0" y="182.5">59</text></g>
<rect x="104.5" y="301.6" width="11" height="1.8" fill="#3a3a3a" opacity="0.8"/>
<g font-weight="bold" fill="#d01420" stroke="#d01420" stroke-width="0.2">
<text x="321.5" y="238.7" font-size="9.4" textLength="17" lengthAdjust="spacingAndGlyphs">5262</text>
<text x="397" y="175.1" font-size="10" textLength="25.5" lengthAdjust="spacingAndGlyphs">10455</text>
<text x="573.4" y="45.1" font-size="9.2" textLength="25.4" lengthAdjust="spacingAndGlyphs">20990</text>
</g>
<path d="M106.00,309.80 L107.92,309.76 L109.84,309.71 L111.78,309.67 L113.72,309.63 L115.66,309.58 L117.60,309.54 L119.55,309.50 L121.50,309.46 L123.45,309.41 L125.40,309.37 L127.34,309.33 L129.28,309.29 L131.22,309.24 L133.15,309.20 L135.07,309.16 L136.98,309.11 L138.88,309.07 L140.77,309.03 L142.65,308.98 L144.51,308.94 L146.36,308.89 L148.19,308.85 L150.00,308.80 L152.04,308.75 L154.06,308.69 L156.06,308.63 L158.05,308.58 L160.01,308.52 L161.96,308.46 L163.90,308.40 L165.83,308.34 L167.75,308.28 L169.66,308.22 L171.57,308.16 L173.48,308.11 L175.39,308.05 L177.30,308.00 L179.21,307.94 L181.13,307.89 L183.06,307.85 L185.00,307.80 L186.95,307.76 L188.92,307.72 L190.90,307.69 L192.89,307.66 L194.89,307.63 L196.88,307.60 L198.88,307.58 L200.88,307.55 L202.87,307.53 L204.85,307.51 L206.82,307.48 L208.77,307.45 L210.70,307.42 L212.62,307.39 L214.51,307.35 L216.37,307.30 L218.20,307.25 L220.00,307.20 L222.08,307.13 L224.14,307.05 L226.19,306.96 L228.21,306.87 L230.21,306.78 L232.18,306.68 L234.13,306.58 L236.04,306.48 L237.91,306.38 L239.75,306.28 L241.55,306.18 L243.30,306.09 L245.00,306.00 L247.07,305.90 L249.08,305.80 L251.02,305.71 L252.90,305.62 L254.73,305.53 L256.52,305.43 L258.27,305.32 L260.00,305.20 L261.89,305.06 L263.70,304.91 L265.46,304.76 L267.20,304.59 L268.94,304.40 L270.70,304.20 L272.54,304.00 L274.42,303.80 L276.30,303.59 L278.13,303.34 L279.88,303.02 L281.50,302.60 L283.26,302.00 L284.88,301.32 L286.40,300.50 L287.90,299.50 L289.27,298.36 L290.60,297.04 L291.89,295.59 L293.16,294.06 L294.40,292.50 L295.52,291.05 L296.61,289.54 L297.68,287.97 L298.73,286.36 L299.77,284.70 L300.80,283.00 L301.64,281.53 L302.46,279.98 L303.26,278.39 L304.06,276.78 L304.86,275.16 L305.66,273.56 L306.47,272.00 L307.30,270.50 L308.33,268.71 L309.37,266.95 L310.42,265.22 L311.49,263.54 L312.58,261.93 L313.70,260.40 L314.91,258.87 L316.14,257.42 L317.39,256.05 L318.71,254.71 L320.10,253.40 L321.43,252.25 L322.83,251.12 L324.28,250.02 L325.76,248.94 L327.24,247.90 L328.70,246.90 L330.36,245.79 L332.05,244.71 L333.73,243.67 L335.38,242.70 L337.00,241.80 L338.64,240.95 L340.21,240.21 L341.82,239.48 L343.60,238.70 L345.12,238.06 L346.75,237.41 L348.47,236.74 L350.24,236.05 L352.02,235.34 L353.79,234.59 L355.50,233.80 L357.21,232.97 L358.93,232.12 L360.63,231.25 L362.33,230.33 L364.01,229.36 L365.66,228.32 L367.30,227.20 L368.83,226.05 L370.34,224.84 L371.83,223.56 L373.31,222.23 L374.78,220.85 L376.23,219.43 L377.67,217.98 L379.10,216.50 L380.33,215.18 L381.56,213.80 L382.78,212.38 L384.00,210.92 L385.21,209.45 L386.40,207.97 L387.58,206.50 L388.74,205.06 L389.88,203.65 L391.00,202.30 L392.37,200.69 L393.71,199.12 L395.04,197.58 L396.33,196.07 L397.59,194.58 L398.82,193.09 L400.00,191.60 L401.17,190.05 L402.26,188.53 L403.31,187.01 L404.36,185.50 L405.44,183.96 L406.60,182.40 L407.63,181.05 L408.70,179.65 L409.79,178.23 L410.91,176.81 L412.04,175.40 L413.19,174.01 L414.34,172.68 L415.50,171.40 L416.72,170.11 L417.95,168.86 L419.19,167.64 L420.45,166.46 L421.72,165.33 L423.00,164.24 L424.30,163.20 L425.74,162.11 L427.21,161.06 L428.69,160.07 L430.18,159.14 L431.69,158.28 L433.20,157.50 L434.88,156.75 L436.55,156.12 L438.24,155.57 L439.98,155.04 L441.80,154.50 L443.38,154.03 L445.02,153.55 L446.71,153.08 L448.42,152.63 L450.16,152.20 L451.89,151.82 L453.60,151.50 L455.57,151.22 L457.55,151.02 L459.54,150.88 L461.53,150.76 L463.52,150.61 L465.50,150.40 L467.49,150.15 L469.50,149.89 L471.50,149.61 L473.49,149.30 L475.43,148.93 L477.30,148.50 L479.27,147.97 L481.17,147.39 L483.03,146.74 L484.87,146.02 L486.70,145.20 L488.31,144.38 L489.91,143.48 L491.49,142.51 L493.07,141.50 L494.64,140.49 L496.20,139.50 L497.73,138.53 L499.22,137.55 L500.70,136.57 L502.21,135.58 L503.76,134.59 L505.40,133.60 L506.90,132.74 L508.45,131.89 L510.06,131.04 L511.69,130.18 L513.35,129.32 L515.01,128.46 L516.67,127.58 L518.30,126.70 L519.96,125.81 L521.64,124.93 L523.32,124.06 L525.00,123.17 L526.67,122.26 L528.33,121.30 L529.98,120.29 L531.60,119.20 L533.15,118.07 L534.73,116.85 L536.32,115.56 L537.89,114.22 L539.44,112.87 L540.93,111.51 L542.35,110.19 L543.68,108.91 L544.90,107.70 L546.31,106.23 L547.54,104.84 L548.68,103.47 L549.81,102.07 L551.00,100.60 L552.19,99.14 L553.40,97.63 L554.62,96.08 L555.84,94.50 L557.03,92.91 L558.20,91.30 L559.18,89.90 L560.15,88.47 L561.10,87.03 L562.04,85.58 L562.96,84.13 L563.88,82.66 L564.80,81.20 L565.70,79.73 L566.57,78.26 L567.44,76.78 L568.30,75.29 L569.17,73.80 L570.07,72.30 L571.00,70.80 L572.03,69.17 L573.10,67.51 L574.19,65.82 L575.30,64.15 L576.41,62.52 L577.52,60.96 L578.60,59.50 L579.89,57.84 L581.22,56.20 L582.52,54.67 L583.73,53.34 L584.80,52.30 L585.95,51.45 L587.00,50.80" fill="none" stroke="#ff0000" stroke-width="6.3" stroke-linecap="round" stroke-linejoin="round"/>
<g stroke="#111" stroke-width="1.6" fill="none">
<path d="M86.1,40 V320.3 H606"/>
<path d="M81,310.2 H86 M81,267.3 H86 M81,224.4 H86 M81,181.5 H86 M81,138.6 H86 M81,95.8 H86 M81,52.9 H86"/>
<path d="M325.1,320.3 V325.5 M584.4,320.3 V325.5"/>
</g>
<g stroke="#4a4a4a" stroke-width="1.4" fill="none">
<path d="M611.5,62.8 H606 V310.3 H611.5 M606,248.4 H611.5 M606,186.5 H611.5 M606,124.7 H611.5"/>
</g>
<g font-size="8.2" fill="#26262c" stroke="#26262c" stroke-width="0.35" text-anchor="end"><text x="75.2" y="312.8" textLength="4.9" lengthAdjust="spacingAndGlyphs">0</text><text x="75.2" y="269.9" textLength="10.2" lengthAdjust="spacingAndGlyphs">20</text><text x="75.2" y="227.0" textLength="10.2" lengthAdjust="spacingAndGlyphs">40</text><text x="75.2" y="184.1" textLength="10.2" lengthAdjust="spacingAndGlyphs">60</text><text x="75.2" y="141.2" textLength="10.2" lengthAdjust="spacingAndGlyphs">80</text><text x="75.2" y="98.4" textLength="13.0" lengthAdjust="spacingAndGlyphs">100</text><text x="75.2" y="55.5" textLength="13.0" lengthAdjust="spacingAndGlyphs">120</text></g>
<text transform="translate(52.4,180.2) rotate(-90)" font-size="8.6" fill="#2e2e33" stroke="#2e2e33" stroke-width="0.1" text-anchor="middle" textLength="91.6" lengthAdjust="spacingAndGlyphs">Αριθμός νέων θανάτων</text>
<g font-size="8.3" fill="#2e2e33" stroke="#2e2e33" stroke-width="0.12" text-anchor="middle"><text transform="translate(623.8,310.3) rotate(-90)" >0</text><text transform="translate(623.8,248.4) rotate(-90)" textLength="19.5" lengthAdjust="spacingAndGlyphs">5000</text><text transform="translate(623.8,186.5) rotate(-90)" textLength="24.4" lengthAdjust="spacingAndGlyphs">10000</text><text transform="translate(623.8,124.7) rotate(-90)" textLength="24.4" lengthAdjust="spacingAndGlyphs">15000</text><text transform="translate(623.8,62.8) rotate(-90)" textLength="24.4" lengthAdjust="spacingAndGlyphs">20000</text></g>
<text transform="translate(645.3,180.7) rotate(-90)" font-size="8.6" fill="#2e2e33" stroke="#2e2e33" stroke-width="0.1" text-anchor="middle" textLength="113.4" lengthAdjust="spacingAndGlyphs">Συνολικός αριθμός θανάτων</text>
<g font-size="8.6" fill="#2e2e33" stroke="#2e2e33" stroke-width="0.22" text-anchor="middle">
<text x="325.2" y="339.3" textLength="16.7" lengthAdjust="spacingAndGlyphs">2021</text>
<text x="584.4" y="339.3" textLength="16.7" lengthAdjust="spacingAndGlyphs">2022</text>
<text x="345.9" y="359.9" font-size="8.4" textLength="84.2" lengthAdjust="spacingAndGlyphs">Ημερομηνία θανάτου</text>
</g>
<g font-size="9.4" fill="#1e1e22" stroke="#1e1e22" stroke-width="0.2">
<text x="33.6" y="386.7" textLength="457.6" lengthAdjust="spacingAndGlyphs">Σημ.: οι στήλες στο Διάγραμμα 2 εκφράζουν τον αριθμό νέων θανάτων με βάση την ημερομηνία θανάτου</text>
<text x="33.6" y="416.9" word-spacing="2.2" textLength="624.2" lengthAdjust="spacingAndGlyphs">Η διαχρονική εξέλιξη των συνολικών κρουσμάτων και συνολικού αριθμού των θανάτων ασθενών COVID-19 παρουσιάζεται στο ακόλουθο</text>
<text x="33.6" y="430.4" textLength="48.2" lengthAdjust="spacingAndGlyphs">διάγραμμα.</text>
<text x="33.6" y="786.7" textLength="433.6" lengthAdjust="spacingAndGlyphs">Σημ.: ευθεία γραμμή υποδηλώνει εκθετικό ρυθμό αύξησης της ασθένειας (σε λογαριθμική κλίμακα)</text>
</g>
<text x="145.2" y="466.8" font-size="9.8" font-weight="bold" fill="#111" stroke="#111" stroke-width="0.25" textLength="421.7" lengthAdjust="spacingAndGlyphs">Διάγραμμα 3: Διαχρονική εξέλιξη εργαστηριακά επιβεβαιωμένων κρουσμάτων και θανάτων</text>
<g stroke="#111" stroke-width="1.6" fill="none">
<path d="M76.6,484.8 V719.2 H636"/>
<path d="M71.3,498 H76.6 M71.3,569 H76.6 M71.3,639.3 H76.6 M71.3,710.8 H76.6"/>
<path d="M334.9,719.2 V724.5 M613.9,719.2 V724.5"/>
</g>
<g font-size="9.3" fill="#2e2e33" stroke="#2e2e33" stroke-width="0.22" text-anchor="middle">
<text transform="translate(63.9,497.5) rotate(-90)" textLength="22.2" lengthAdjust="spacingAndGlyphs">1e+06</text>
<text transform="translate(63.9,568.7) rotate(-90)" textLength="22.2" lengthAdjust="spacingAndGlyphs">1e+04</text>
<text transform="translate(63.9,639.3) rotate(-90)" textLength="22.2" lengthAdjust="spacingAndGlyphs">1e+02</text>
<text transform="translate(63.9,710.8) rotate(-90)" textLength="22.2" lengthAdjust="spacingAndGlyphs">1e+00</text>
</g>
<text transform="translate(41.8,602) rotate(-90)" font-size="8.6" fill="#2e2e33" stroke="#2e2e33" stroke-width="0.1" text-anchor="middle" textLength="265" lengthAdjust="spacingAndGlyphs">Αριθμός εργαστηριακά επιβεβαιωμένων κρουσμάτων και θανάτων</text>
<path d="M94.8,495.4 H135.5" stroke="#d82020" stroke-width="2"/>
<path d="M94.8,505.8 H135.5" stroke="#7c30bc" stroke-width="2"/>
<g font-size="8" fill="#2e2e33" stroke="#2e2e33" stroke-width="0.22">
<text x="142.6" y="497.1" textLength="44.5" lengthAdjust="spacingAndGlyphs">Κρούσματα</text>
<text x="142.6" y="507.3" textLength="31" lengthAdjust="spacingAndGlyphs">Θάνατοι</text>
</g>
<path d="M98.00,711.00 L98.05,709.12 L98.10,707.17 L98.15,705.23 L98.20,703.35 L98.25,701.59 L98.30,700.00 L98.34,698.22 L98.38,696.65 L98.50,695.00 L98.71,693.33 L99.00,691.57 L99.33,689.77 L99.70,688.00 L100.10,686.22 L100.55,684.44 L101.02,682.68 L101.50,681.00 L102.12,679.28 L102.76,677.65 L103.30,675.60 L103.50,674.16 L103.64,672.44 L103.72,670.51 L103.77,668.42 L103.80,666.23 L103.81,664.00 L103.83,661.79 L103.86,659.65 L103.93,657.65 L104.03,655.85 L104.20,654.30 L104.54,652.27 L104.94,650.55 L105.39,648.95 L105.90,647.30 L106.53,645.52 L107.24,643.75 L107.96,641.98 L108.60,640.20 L109.13,638.47 L109.62,636.75 L110.04,634.99 L110.40,633.10 L110.57,631.41 L110.62,629.58 L110.62,627.67 L110.67,625.80 L110.83,624.05 L111.20,622.50 L111.93,621.02 L112.86,619.76 L113.87,618.54 L114.80,617.20 L115.51,615.87 L116.16,614.50 L116.81,613.07 L117.51,611.57 L118.30,610.00 L119.04,608.56 L119.82,606.97 L120.65,605.29 L121.52,603.58 L122.44,601.90 L123.39,600.33 L124.38,598.90 L125.40,597.70 L126.72,596.51 L128.12,595.55 L129.57,594.73 L131.03,594.01 L132.50,593.30 L134.21,592.49 L135.93,591.78 L137.70,591.15 L139.60,590.60 L141.14,590.25 L142.70,589.97 L144.33,589.75 L146.06,589.55 L147.93,589.34 L150.00,589.10 L151.54,588.92 L153.22,588.72 L155.02,588.52 L156.92,588.32 L158.91,588.11 L160.97,587.90 L163.08,587.69 L165.21,587.47 L167.36,587.26 L169.50,587.05 L171.62,586.85 L173.70,586.65 L175.72,586.46 L177.66,586.27 L179.50,586.10 L181.51,585.92 L183.49,585.76 L185.44,585.61 L187.36,585.47 L189.24,585.33 L191.10,585.19 L192.93,585.05 L194.73,584.89 L196.51,584.72 L198.26,584.52 L200.00,584.30 L202.03,584.03 L204.00,583.79 L205.91,583.55 L207.80,583.27 L209.67,582.95 L211.55,582.54 L213.46,582.03 L215.40,581.40 L217.09,580.73 L218.78,579.95 L220.48,579.07 L222.18,578.12 L223.89,577.11 L225.61,576.06 L227.35,574.99 L229.10,573.92 L230.88,572.87 L232.68,571.86 L234.50,570.90 L236.19,570.05 L237.92,569.19 L239.67,568.33 L241.43,567.47 L243.22,566.61 L245.02,565.75 L246.83,564.91 L248.64,564.08 L250.45,563.28 L252.25,562.49 L254.05,561.73 L255.83,561.00 L257.60,560.30 L259.39,559.65 L261.21,559.07 L263.05,558.54 L264.90,558.05 L266.74,557.58 L268.57,557.11 L270.37,556.64 L272.14,556.14 L273.87,555.60 L275.55,555.01 L277.16,554.35 L278.70,553.60 L280.40,552.60 L282.01,551.50 L283.55,550.31 L285.02,549.07 L286.45,547.80 L287.86,546.53 L289.26,545.29 L290.67,544.10 L292.10,543.00 L293.76,541.80 L295.40,540.62 L297.03,539.48 L298.65,538.38 L300.28,537.33 L301.93,536.33 L303.60,535.40 L305.21,534.56 L306.81,533.77 L308.43,533.03 L310.06,532.33 L311.73,531.69 L313.44,531.12 L315.20,530.60 L316.93,530.18 L318.69,529.85 L320.49,529.57 L322.32,529.35 L324.18,529.15 L326.09,528.97 L328.03,528.80 L330.00,528.60 L331.70,528.43 L333.45,528.29 L335.24,528.16 L337.06,528.04 L338.90,527.92 L340.76,527.81 L342.62,527.69 L344.49,527.57 L346.34,527.43 L348.18,527.28 L350.00,527.10 L351.97,526.89 L353.96,526.66 L355.96,526.43 L357.95,526.18 L359.94,525.92 L361.91,525.65 L363.86,525.37 L365.78,525.09 L367.66,524.80 L369.50,524.50 L371.43,524.17 L373.28,523.84 L375.08,523.49 L376.85,523.14 L378.63,522.77 L380.44,522.40 L382.32,522.01 L384.30,521.60 L386.01,521.24 L387.79,520.86 L389.64,520.46 L391.53,520.04 L393.46,519.61 L395.40,519.17 L397.34,518.75 L399.26,518.33 L401.16,517.93 L403.01,517.56 L404.79,517.21 L406.50,516.90 L408.46,516.57 L410.34,516.28 L412.14,516.01 L413.92,515.77 L415.68,515.55 L417.46,515.33 L419.29,515.12 L421.20,514.90 L422.92,514.71 L424.57,514.55 L426.20,514.41 L427.84,514.27 L429.53,514.13 L431.30,513.99 L433.20,513.83 L435.25,513.65 L437.51,513.44 L440.00,513.20 L441.22,513.08 L442.50,512.94 L443.85,512.81 L445.25,512.66 L446.71,512.50 L448.23,512.34 L449.80,512.18 L451.42,512.00 L453.10,511.82 L454.81,511.63 L456.58,511.44 L458.38,511.24 L460.23,511.04 L462.12,510.83 L464.04,510.62 L466.00,510.40 L467.99,510.18 L470.01,509.96 L472.06,509.73 L474.13,509.50 L476.23,509.26 L478.35,509.03 L480.49,508.79 L482.65,508.54 L484.82,508.30 L487.01,508.05 L489.21,507.81 L491.42,507.56 L493.63,507.31 L495.86,507.06 L498.08,506.81 L500.31,506.56 L502.53,506.31 L504.75,506.05 L506.97,505.80 L509.18,505.56 L511.37,505.31 L513.56,505.06 L515.74,504.82 L517.89,504.57 L520.04,504.33 L522.16,504.09 L524.25,503.86 L526.33,503.62 L528.38,503.40 L530.40,503.17 L532.39,502.95 L534.34,502.73 L536.27,502.51 L538.15,502.30 L540.00,502.10 L542.08,501.87 L544.14,501.64 L546.19,501.41 L548.23,501.19 L550.26,500.96 L552.28,500.74 L554.29,500.52 L556.28,500.30 L558.27,500.08 L560.25,499.86 L562.22,499.64 L564.18,499.43 L566.14,499.21 L568.08,499.00 L570.02,498.78 L571.96,498.57 L573.89,498.36 L575.82,498.14 L577.74,497.93 L579.66,497.72 L581.57,497.51 L583.48,497.30 L585.39,497.09 L587.30,496.88 L589.21,496.67 L591.12,496.46 L593.02,496.25 L594.93,496.04 L596.84,495.82 L598.75,495.61 L600.66,495.40 L602.58,495.19 L604.50,494.98 L606.42,494.77 L608.34,494.56 L610.27,494.34 L612.21,494.13 L614.15,493.92 L616.10,493.70" fill="none" stroke="#e01a1a" stroke-width="2.1" stroke-linejoin="round"/>
<path d="M109.10,711.00 L109.28,708.97 L109.45,706.84 L109.59,704.65 L109.74,702.47 L109.90,700.34 L110.09,698.31 L110.31,696.43 L110.58,694.74 L110.90,693.30 L111.53,691.58 L112.25,690.23 L113.00,688.80 L113.70,687.40 L114.44,685.97 L115.14,684.42 L115.70,682.70 L115.96,681.16 L116.08,679.46 L116.12,677.65 L116.12,675.78 L116.15,673.89 L116.25,672.05 L116.50,670.30 L116.94,668.44 L117.49,666.61 L118.11,664.81 L118.78,663.04 L119.45,661.30 L120.10,659.60 L120.76,657.77 L121.41,656.00 L122.08,654.25 L122.80,652.53 L123.60,650.80 L124.35,649.24 L125.13,647.62 L125.96,646.00 L126.85,644.47 L127.82,643.08 L128.90,641.90 L130.51,640.72 L132.30,639.85 L134.16,639.12 L136.00,638.40 L137.76,637.67 L139.54,637.00 L141.32,636.37 L143.10,635.80 L144.76,635.32 L146.38,634.91 L148.09,634.52 L150.00,634.10 L151.54,633.75 L153.18,633.37 L154.91,632.98 L156.72,632.59 L158.62,632.20 L160.60,631.83 L162.66,631.49 L164.80,631.20 L166.47,631.01 L168.22,630.85 L170.04,630.71 L171.93,630.59 L173.87,630.48 L175.86,630.38 L177.88,630.30 L179.93,630.23 L182.00,630.16 L184.08,630.09 L186.16,630.02 L188.23,629.95 L190.29,629.88 L192.31,629.79 L194.30,629.70 L196.27,629.61 L198.23,629.55 L200.19,629.50 L202.15,629.46 L204.11,629.42 L206.07,629.39 L208.02,629.35 L209.99,629.30 L211.95,629.23 L213.92,629.15 L215.90,629.03 L217.89,628.88 L219.88,628.70 L221.88,628.47 L223.90,628.20 L225.73,627.91 L227.57,627.58 L229.43,627.22 L231.29,626.83 L233.16,626.41 L235.03,625.97 L236.91,625.51 L238.80,625.02 L240.69,624.52 L242.58,624.01 L244.47,623.49 L246.36,622.96 L248.25,622.42 L250.13,621.89 L252.01,621.36 L253.88,620.83 L255.74,620.31 L257.60,619.80 L259.57,619.28 L261.58,618.77 L263.64,618.27 L265.72,617.78 L267.81,617.29 L269.91,616.79 L272.00,616.29 L274.08,615.78 L276.13,615.26 L278.14,614.72 L280.10,614.16 L282.00,613.58 L283.83,612.97 L285.57,612.33 L287.22,611.66 L288.77,610.95 L290.20,610.20 L292.04,609.05 L293.66,607.84 L295.11,606.57 L296.44,605.25 L297.71,603.90 L298.98,602.51 L300.29,601.11 L301.70,599.70 L303.00,598.40 L304.30,597.00 L305.60,595.56 L306.90,594.08 L308.22,592.60 L309.56,591.15 L310.91,589.75 L312.30,588.45 L313.73,587.25 L315.20,586.20 L316.92,585.17 L318.67,584.27 L320.46,583.48 L322.28,582.78 L324.15,582.16 L326.05,581.58 L328.00,581.04 L330.00,580.50 L331.68,580.08 L333.38,579.70 L335.12,579.36 L336.89,579.06 L338.68,578.78 L340.51,578.52 L342.35,578.28 L344.23,578.05 L346.13,577.83 L348.05,577.62 L350.00,577.40 L351.81,577.21 L353.70,577.04 L355.64,576.90 L357.62,576.76 L359.64,576.64 L361.67,576.52 L363.70,576.41 L365.72,576.30 L367.72,576.19 L369.68,576.08 L371.60,575.95 L373.44,575.82 L375.22,575.67 L376.90,575.50 L378.96,575.26 L380.92,575.01 L382.78,574.75 L384.58,574.47 L386.35,574.19 L388.11,573.90 L389.88,573.60 L391.70,573.30 L393.55,572.97 L395.40,572.62 L397.25,572.25 L399.10,571.87 L400.95,571.51 L402.80,571.17 L404.65,570.86 L406.50,570.60 L408.32,570.39 L410.13,570.23 L411.93,570.10 L413.73,569.99 L415.55,569.89 L417.40,569.80 L419.28,569.71 L421.20,569.60 L422.92,569.50 L424.57,569.41 L426.20,569.33 L427.84,569.25 L429.53,569.17 L431.30,569.08 L433.20,568.99 L435.25,568.88 L437.51,568.75 L440.00,568.60 L441.22,568.52 L442.50,568.44 L443.85,568.36 L445.25,568.26 L446.71,568.17 L448.23,568.07 L449.80,567.96 L451.42,567.85 L453.09,567.74 L454.81,567.62 L456.58,567.50 L458.38,567.37 L460.23,567.24 L462.12,567.11 L464.04,566.97 L466.00,566.83 L467.99,566.69 L470.01,566.55 L472.05,566.40 L474.13,566.25 L476.23,566.10 L478.35,565.95 L480.49,565.80 L482.65,565.64 L484.82,565.49 L487.01,565.33 L489.21,565.17 L491.42,565.01 L493.63,564.85 L495.85,564.69 L498.08,564.54 L500.30,564.38 L502.53,564.22 L504.75,564.06 L506.97,563.90 L509.17,563.74 L511.37,563.59 L513.56,563.43 L515.73,563.28 L517.89,563.12 L520.03,562.97 L522.15,562.82 L524.25,562.68 L526.33,562.53 L528.38,562.39 L530.40,562.25 L532.39,562.11 L534.34,561.98 L536.27,561.85 L538.15,561.72 L540.00,561.60 L542.08,561.46 L544.14,561.33 L546.19,561.19 L548.23,561.06 L550.26,560.93 L552.28,560.79 L554.28,560.66 L556.28,560.54 L558.27,560.41 L560.25,560.28 L562.22,560.16 L564.18,560.03 L566.13,559.91 L568.08,559.79 L570.02,559.67 L571.96,559.54 L573.89,559.42 L575.82,559.30 L577.74,559.18 L579.66,559.06 L581.57,558.95 L583.48,558.83 L585.39,558.71 L587.30,558.59 L589.21,558.47 L591.12,558.35 L593.02,558.24 L594.93,558.12 L596.84,558.00 L598.75,557.88 L600.66,557.76 L602.58,557.65 L604.50,557.53 L606.42,557.41 L608.34,557.29 L610.27,557.17 L612.21,557.04 L614.15,556.92 L616.10,556.80" fill="none" stroke="#8432c8" stroke-width="2.1" stroke-linejoin="round"/>
<g font-size="8.6" fill="#2e2e33" stroke="#2e2e33" stroke-width="0.22" text-anchor="middle">
<text x="335" y="738.3" textLength="16.8" lengthAdjust="spacingAndGlyphs">2021</text>
<text x="613.9" y="738.3" textLength="16.8" lengthAdjust="spacingAndGlyphs">2022</text>
<text x="356.2" y="758.9" textLength="102.3" lengthAdjust="spacingAndGlyphs">Ημερομηνία ανακοίνωσης</text>
</g>
</svg>
</body></html>
